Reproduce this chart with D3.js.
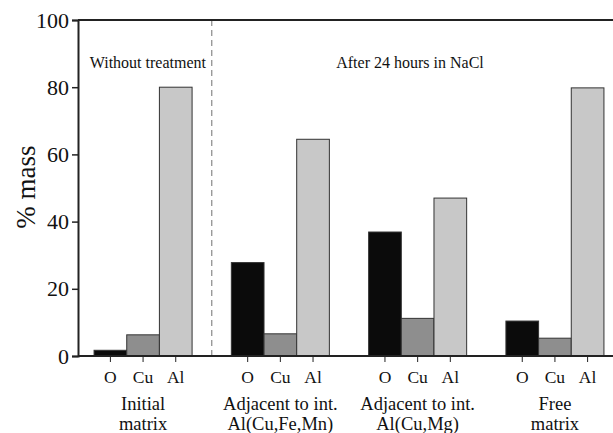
<!DOCTYPE html>
<html><head><meta charset="utf-8">
<script src="https://cdn.jsdelivr.net/npm/d3@7"></script>
<style>body{margin:0;background:#fff}svg{display:block}
svg text{font-family:"Liberation Serif",Tinos,"Times New Roman",Times,"Nimbus Roman","Noto Serif",serif !important;fill:#111}</style>
</head><body><div id="chart"></div>
<script>
const groups = ["Initial matrix", "Adjacent to int. Al(Cu,Fe,Mn)", "Adjacent to int. Al(Cu,Mg)", "Free matrix"];
const groupLines = [["Initial","matrix"],["Adjacent to int.","Al(Cu,Fe,Mn)"],["Adjacent to int.","Al(Cu,Mg)"],["Free","matrix"]];
const elements = ["O", "Cu", "Al"];
const valuesO  = [1.7, 27.8, 36.9, 10.4];
const valuesCu = [6.3, 6.6, 11.2, 5.3];
const valuesAl = [80.0, 64.5, 47.0, 79.8];
const yTicks = [0, 20, 40, 60, 80, 100];
const colors = {O:"#0b0b0b", Cu:"#8e8e8e", Al:"#c8c8c8"};

const W = 613, H = 433;
const mLeft = 78, mTop = 20, mBottom = 356;
const svg = d3.select("#chart").append("svg").attr("width", W).attr("height", H);

const y = d3.scaleLinear().domain([0, 100]).range([mBottom, mTop]);
const x0 = d3.scaleBand().domain(groups).range([78, 620]).paddingInner(0.286).paddingOuter(0.117);
const x1 = d3.scaleBand().domain(elements).range([0, x0.bandwidth()]);

const data = groups.map((g, i) => ({g, vals: [
  {e:"O", v: valuesO[i]}, {e:"Cu", v: valuesCu[i]}, {e:"Al", v: valuesAl[i]}]}));

// dashed separator
const sepX = (x0(groups[0]) + x0.bandwidth() + x0(groups[1])) / 2;
svg.append("line").attr("x1", sepX).attr("x2", sepX).attr("y1", mTop).attr("y2", mBottom)
  .attr("stroke", "#9a9a9a").attr("stroke-width", 1.4).attr("stroke-dasharray", "6,4");

// bars
const gg = svg.selectAll("g.grp").data(data).join("g").attr("class", "grp").attr("transform", d => `translate(${x0(d.g)},0)`);
gg.selectAll("rect").data(d => d.vals).join("rect")
  .attr("x", d => x1(d.e)).attr("width", x1.bandwidth())
  .attr("y", d => y(d.v)).attr("height", d => y(0) - y(d.v))
  .attr("fill", d => colors[d.e]).attr("stroke", "#333").attr("stroke-width", 1);

// element ticks and labels
gg.selectAll("line.tk").data(elements).join("line").attr("class", "tk")
  .attr("x1", d => x1(d) + x1.bandwidth()/2).attr("x2", d => x1(d) + x1.bandwidth()/2)
  .attr("y1", mBottom).attr("y2", mBottom + 6).attr("stroke", "#222").attr("stroke-width", 1);
gg.selectAll("text.el").data(elements).join("text").attr("class", "el")
  .attr("x", d => x1(d) + x1.bandwidth()/2).attr("y", 383)
  .attr("text-anchor", "middle").attr("font-size", 17.5).text(d => d);
gg.each(function(d, i) {
  const t = d3.select(this);
  groupLines[i].forEach((ln, k) => {
    t.append("text").attr("x", x0.bandwidth()/2).attr("y", 410 + k*20)
      .attr("text-anchor", "middle").attr("font-size", 18.5).text(ln);
  });
});

// axes lines
svg.append("line").attr("x1", mLeft).attr("x2", W).attr("y1", mTop).attr("y2", mTop).attr("stroke", "#222").attr("stroke-width", 2);
svg.append("line").attr("x1", mLeft).attr("x2", W).attr("y1", mBottom).attr("y2", mBottom).attr("stroke", "#222").attr("stroke-width", 2);
const yAxis = svg.append("g").attr("transform", `translate(${mLeft},0)`)
  .call(d3.axisLeft(y).tickValues(yTicks).tickSize(6).tickPadding(3));
yAxis.select(".domain").attr("stroke", "#222").attr("stroke-width", 2);
yAxis.selectAll(".tick line").attr("stroke", "#222").attr("stroke-width", 1.5);
yAxis.selectAll(".tick text").attr("font-size", 22).attr("fill", "#111");

// y label
svg.append("text").attr("transform", "translate(35,187) rotate(-90)")
  .attr("text-anchor", "middle").attr("font-size", 27).text("% mass");

// annotations
svg.append("text").attr("x", (mLeft + sepX)/2 + 3).attr("y", 68).attr("text-anchor", "middle")
  .attr("font-size", 16).text("Without treatment");
svg.append("text").attr("x", 410).attr("y", 68).attr("text-anchor", "middle")
  .attr("font-size", 16).text("After 24 hours in NaCl");
</script></body></html>
